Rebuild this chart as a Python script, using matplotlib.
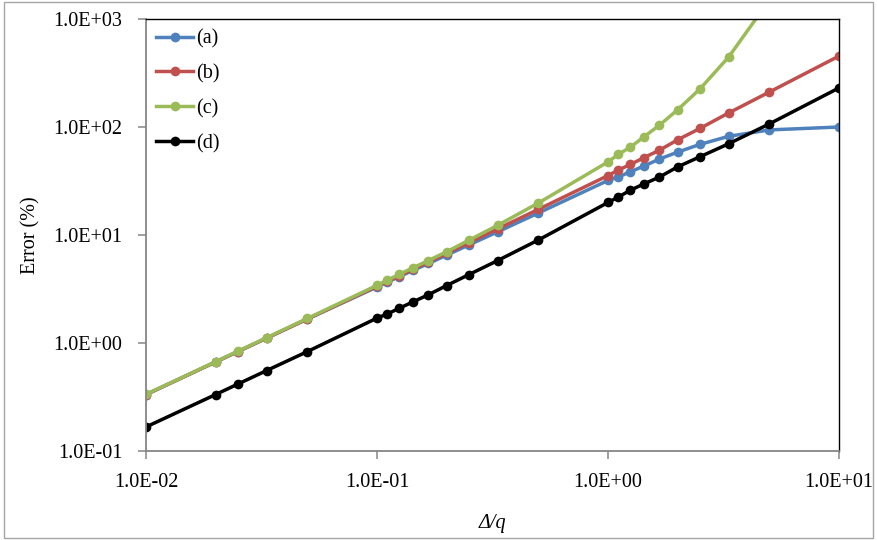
import matplotlib
matplotlib.use("Agg")
import matplotlib.pyplot as plt
from matplotlib.ticker import FixedLocator, FuncFormatter, NullLocator
from matplotlib.patches import Rectangle

# values
ratio = [0.01, 0.02, 0.025, 0.0333, 0.05,
         0.1, 0.111, 0.125, 0.143, 0.167, 0.2, 0.25, 0.333, 0.5,
         1.0, 1.11, 1.25, 1.43, 1.67, 2.0, 2.5, 3.33, 5.0, 10.0]

err_a = [0.333, 0.667, 0.833, 1.11, 1.67,
         3.3, 3.68, 4.12, 4.7, 5.45, 6.5, 8.1, 10.7, 16.0,
         32.0, 34.5, 38.5, 43.5, 50.5, 58.5, 69.0, 82.0, 94.0, 100.0]
err_b = [0.333, 0.667, 0.834, 1.11, 1.67,
         3.35, 3.73, 4.2, 4.82, 5.62, 6.75, 8.5, 11.4, 17.3,
         35.5, 40.0, 45.0, 52.0, 61.0, 76.0, 97.0, 135.0, 211.0, 454.0]
err_c = [0.335, 0.67, 0.84, 1.12, 1.69,
         3.42, 3.82, 4.33, 4.97, 5.8, 7.0, 8.95, 12.3, 19.8,
         47.5, 56.0, 65.0, 81.0, 104.0, 144.0, 225.0, 445.0, 1500.0, 30000.0]
err_d = [0.167, 0.333, 0.417, 0.556, 0.834,
         1.7, 1.86, 2.1, 2.4, 2.8, 3.4, 4.3, 5.8, 9.0,
         20.0, 22.5, 26.0, 29.7, 34.4, 42.7, 53.0, 70.0, 107.0, 230.0]

labels = ["(a)", "(b)", "(c)", "(d)"]
colors = ["#4F81BD", "#C0504D", "#9BBB59", "#000000"]

xticks = [0.01, 0.1, 1, 10]
yticks = [0.1, 1, 10, 100, 1000]

font = "Liberation Serif"
fs = 14.5

fig = plt.figure(figsize=(8.77, 5.40), dpi=100)
ax = fig.add_axes([146 / 877, 89 / 540, 693 / 877, 432 / 540])

for y, lab, col in zip([err_a, err_b, err_c, err_d], labels, colors):
    ax.plot(ratio, y, color=col, lw=2.5, marker="o", ms=7,
            mew=0, label=lab)

ax.set_xscale("log")
ax.set_yscale("log")
ax.set_xlim(0.01, 10)
ax.set_ylim(0.1, 1000)

ax.xaxis.set_major_locator(FixedLocator(xticks))
ax.yaxis.set_major_locator(FixedLocator(yticks))
ax.xaxis.set_minor_locator(NullLocator())
ax.yaxis.set_minor_locator(NullLocator())
fmt = FuncFormatter(lambda v, p: f"{v:.1E}")
ax.xaxis.set_major_formatter(fmt)
ax.yaxis.set_major_formatter(fmt)

for s in ["left", "bottom"]:
    ax.spines[s].set_color("#868686")
    ax.spines[s].set_linewidth(1.3)
for s in ["top", "right"]:
    ax.spines[s].set_color("black")
    ax.spines[s].set_linewidth(1.0)

ax.tick_params(axis="both", direction="out", length=6, width=1.1,
               color="#868686", labelsize=fs)
ax.tick_params(axis="x", pad=10)
ax.tick_params(axis="y", pad=11)
for t in ax.get_xticklabels() + ax.get_yticklabels():
    t.set_fontfamily(font)

ax.set_ylabel("Error (%)", fontfamily=font, fontsize=fs, labelpad=9)
ax.set_xlabel("Δ/q", fontfamily=font, fontsize=fs, style="italic",
              labelpad=16)

leg = ax.legend(loc="upper left", frameon=False,
                prop={"family": font, "size": fs},
                handlelength=1.8, handletextpad=0.15, labelspacing=0.77,
                borderpad=0.2, borderaxespad=0.32)

fig.patches.append(Rectangle((0.005, 0.003), 0.99, 0.994,
                             transform=fig.transFigure, fill=False,
                             edgecolor="#A6A6A6", lw=1.0))

fig.savefig("out.png", dpi=100)
